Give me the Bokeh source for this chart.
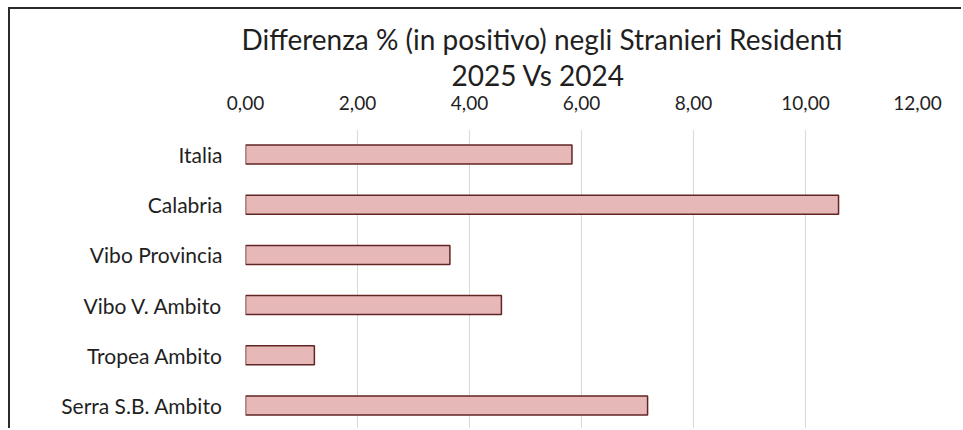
from bokeh.plotting import figure
from bokeh.models import (FactorRange, Range1d, FixedTicker, CustomJSTickFormatter,
                          Title, ColumnDataSource)
from bokeh.embed import file_html
from bokeh.resources import INLINE

# ---- data ----
categories = ["Italia", "Calabria", "Vibo Provincia", "Vibo V. Ambito",
              "Tropea Ambito", "Serra S.B. Ambito"]
values = [5.83, 10.59, 3.65, 4.57, 1.23, 7.18]
x_ticks = [0, 2, 4, 6, 8, 10, 12]
title_line1 = "Differenza % (in positivo) negli Stranieri Residenti"
title_line2 = "2025  Vs  2024"

FONT = "Lato"
TEXT = "#1f1f1f"

source = ColumnDataSource(dict(cat=categories, val=values))

p = figure(width=953, height=421,
           y_range=FactorRange(factors=categories[::-1]),
           x_range=Range1d(0, 12),
           x_axis_location="above",
           output_backend="svg", toolbar_location=None,
           min_border_left=235, min_border_right=46,
           min_border_top=120, min_border_bottom=0)
p.styles = {"margin-left": "8px", "margin-top": "7px",
            "border-left": "2px solid #2b2b2b", "border-top": "2px solid #2b2b2b"}

p.hbar(y="cat", right="val", left=0, height=0.38, source=source,
       fill_color="#E6B9B8", line_color="#632523", line_width=1.5)

# titles
p.title.text = title_line1
p.title.align = "left"
p.title.offset = -4
p.title.text_font = FONT
p.title.text_font_size = "28px"
p.title.text_font_style = "normal"
p.title.text_color = TEXT
p.title.standoff = 0

t2 = Title(text=title_line2, align="left", offset=206, text_font=FONT,
           text_font_size="28px", text_font_style="normal", text_color=TEXT,
           standoff=1)
p.add_layout(t2, "above")

# x axis (top)
xa = p.xaxis[0]
xa.ticker = FixedTicker(ticks=x_ticks)
xa.formatter = CustomJSTickFormatter(code="return tick.toFixed(2).replace('.', ',');")
xa.axis_line_color = None
xa.major_tick_line_color = None
xa.minor_tick_line_color = None
xa.major_label_text_font = FONT
xa.major_label_text_font_size = "19px"
xa.major_label_text_color = TEXT
xa.major_label_standoff = 14

# y axis
ya = p.yaxis[0]
ya.axis_line_color = None
ya.major_tick_line_color = None
ya.minor_tick_line_color = None
ya.major_label_text_font = FONT
ya.major_label_text_font_size = "21px"
ya.major_label_text_color = TEXT
ya.major_label_standoff = 17

p.xgrid.grid_line_color = "#D9D9D9"
p.xgrid.grid_line_width = 1
p.ygrid.grid_line_color = None
p.outline_line_color = None

open("out.html", "w").write(file_html(p, INLINE))
